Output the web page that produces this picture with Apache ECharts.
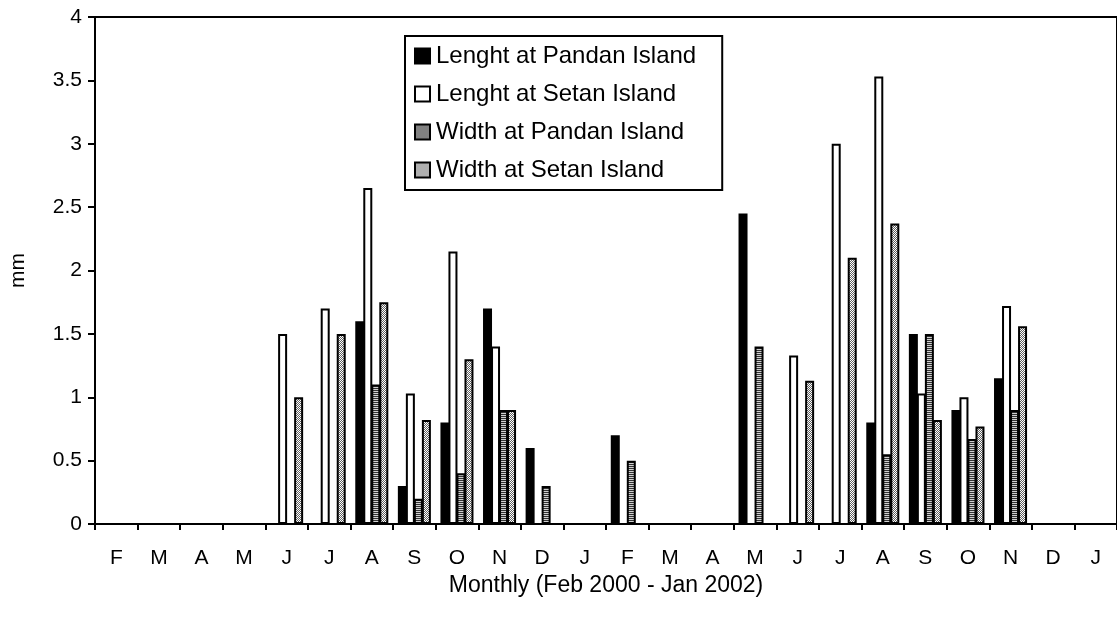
<!DOCTYPE html>
<html>
<head>
<meta charset="utf-8">
<script src="https://cdn.jsdelivr.net/npm/echarts@6/dist/echarts.min.js"></script>
<style>html,body{margin:0;padding:0;background:#fff}#c{width:1117px;height:626px}</style>
</head>
<body>
<div id="c"></div>
<script>
const months = ['F','M','A','M','J','J','A','S','O','N','D','J','F','M','A','M','J','J','A','S','O','N','D','J'];
const lengthPandan = [null,null,null,null,null,null,1.6,0.3,0.8,1.7,0.6,null,0.7,null,null,2.45,null,null,0.8,1.5,0.9,1.15,null,null];
const lengthSetan  = [null,null,null,null,1.5,1.7,2.65,1.03,2.15,1.4,null,null,null,null,null,null,1.33,3.0,3.53,1.03,1.0,1.72,null,null];
const widthPandan  = [null,null,null,null,null,null,1.1,0.2,0.4,0.9,0.3,null,0.5,null,null,1.4,null,null,0.55,1.5,0.67,0.9,null,null];
const widthSetan   = [null,null,null,null,1.0,1.5,1.75,0.82,1.3,0.9,null,null,null,null,null,null,1.13,2.1,2.37,0.82,0.77,1.56,null,null];
const yTicks = [0,0.5,1,1.5,2,2.5,3,3.5,4];

function stripeCanvas(){
  const c=document.createElement('canvas');c.width=4;c.height=4;
  const g=c.getContext('2d');
  g.fillStyle='#d0d0d0';g.fillRect(0,0,4,4);
  g.fillStyle='#333333';g.fillRect(0,0,4,1);g.fillRect(0,2,4,1);
  return c;
}
function hatchCanvas(){
  const c=document.createElement('canvas');c.width=4;c.height=4;
  const g=c.getContext('2d');
  g.fillStyle='#ffffff';g.fillRect(0,0,4,4);
  g.fillStyle='#606060';
  for(let i=0;i<4;i++){g.fillRect(i,(3-i)%4,1,1);g.fillRect(i,(5-i)%4,1,1);}
  return c;
}
const stripes={image:stripeCanvas(),repeat:'repeat'};
const hatch={image:hatchCanvas(),repeat:'repeat'};

const font='Liberation Sans, Arial, sans-serif';
const chart=echarts.init(document.getElementById('c'),null,{renderer:'canvas'});
function mk(name,data,color){
  return {name:name,type:'bar',data:data,barWidth:9,barGap:'-11%',
    itemStyle:{color:color,borderColor:'#000',borderWidth:2},animation:false};
}
chart.setOption({
  animation:false,
  backgroundColor:'#fff',
  grid:{left:94,top:17,right:-9,bottom:102,show:true,borderColor:'#000',borderWidth:2,backgroundColor:'transparent'},
  legend:{
    orient:'vertical',left:405,top:36,
    data:['Lenght at Pandan Island','Lenght at Setan Island','Width at Pandan Island','Width at Setan Island'],
    icon:'rect',itemWidth:15,itemHeight:15,itemGap:14,
    padding:[8,26,8,9],
    borderColor:'#000',borderWidth:2,backgroundColor:'#fff',
    textStyle:{fontFamily:font,fontSize:24,color:'#000',padding:[0,0,0,1]}
  },
  xAxis:{
    type:'category',data:months,boundaryGap:true,
    axisLine:{lineStyle:{color:'#000',width:2}},
    axisTick:{show:true,interval:0,length:6,lineStyle:{color:'#000',width:2}},
    axisLabel:{interval:0,fontFamily:font,fontSize:21,color:'#000',margin:24},
    name:'Monthly (Feb 2000 - Jan 2002)',nameLocation:'middle',nameGap:48,
    nameTextStyle:{fontFamily:font,fontSize:23,color:'#000'}
  },
  yAxis:{
    type:'value',min:0,max:4,interval:0.5,
    axisLine:{show:true,lineStyle:{color:'#000',width:2}},
    axisTick:{show:true,length:7,lineStyle:{color:'#000',width:2}},
    splitLine:{show:false},
    axisLabel:{fontFamily:font,fontSize:21,color:'#000',margin:13,
      formatter:function(v){return yTicks.indexOf(v)>=0?String(v):'';}},
    name:'mm',nameLocation:'middle',nameGap:66,
    nameTextStyle:{fontFamily:font,fontSize:21,color:'#000'}
  },
  series:[
    mk('Lenght at Pandan Island',lengthPandan,'#000'),
    mk('Lenght at Setan Island',lengthSetan,'#fff'),
    mk('Width at Pandan Island',widthPandan,stripes),
    mk('Width at Setan Island',widthSetan,hatch)
  ]
});
</script>
</body>
</html>
